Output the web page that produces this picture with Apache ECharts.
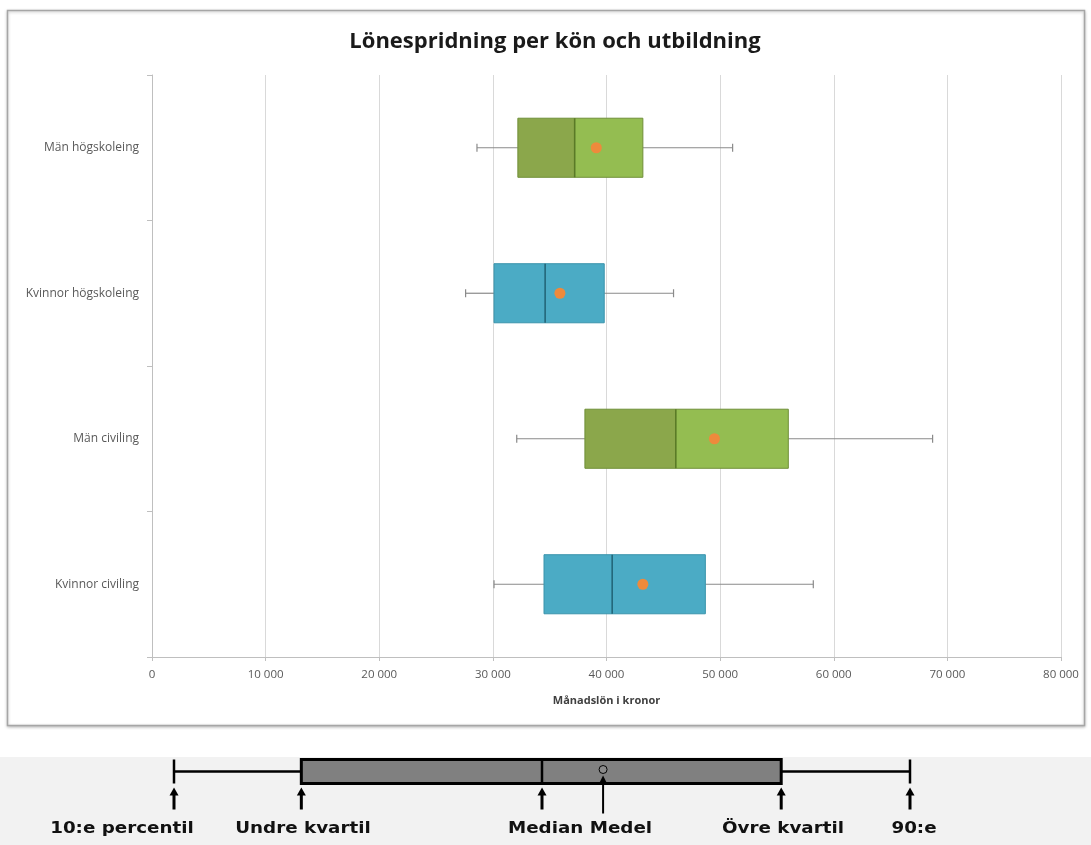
<!DOCTYPE html>
<html>
<head>
<meta charset="utf-8">
<title>Lönespridning per kön och utbildning</title>
<script src="https://cdn.jsdelivr.net/npm/echarts@6/dist/echarts.min.js"></script>
<style>
  html, body { margin: 0; padding: 0; background: #ffffff; }
  #chart { width: 1091px; height: 845px; }
</style>
</head>
<body>
<div id="chart"></div>
<script>
// Monthly salary spread (kronor) per gender and degree type
const categories = ['Män högskoleing', 'Kvinnor högskoleing', 'Män civiling', 'Kvinnor civiling'];
const gender     = ['man', 'kvinna', 'man', 'kvinna'];
const p10        = [28600, 27600, 32100, 30100];
const lowerQ     = [32200, 30100, 38100, 34500];
const median     = [37200, 34600, 46100, 40500];
const upperQ     = [43200, 39800, 56000, 48700];
const p90        = [51100, 45900, 68700, 58200];
const mean       = [39100, 35900, 49500, 43200];

const xTicks = { min: 0, max: 80000, step: 10000 };

// Example box used by the explanation strip (relative scale 0–100)
const keyValues = [0, 17.3, 50.0, 58.3, 82.5, 100];
const keyLabels = ['10:e percentil', 'Undre kvartil', 'Median Medel', 'Övre kvartil', '90:e'];

const palettes = {
  man:    { left: '#8BA74B', right: '#94BD51', border: '#6F8F38', median: '#5A7A27' },
  kvinna: { left: '#4BABC5', right: '#4BABC5', border: '#3A94AC', median: '#22667A' }
};
const WHISKER = '#8a8a8a';
const MEAN_COLOR = '#EE8A3C';

const boxData = categories.map((c, i) => [i, p10[i], lowerQ[i], median[i], upperQ[i], p90[i], mean[i], gender[i] === 'man' ? 0 : 1]);

function renderBox(params, api) {
  const cat = api.value(0);
  const y = api.coord([0, cat])[1];
  const band = api.size([0, 1])[1];
  const h = band * 0.203;          // half of the box height
  const X = v => api.coord([v, cat])[0];
  const a = X(api.value(1)), q1 = X(api.value(2)), md = X(api.value(3));
  const q3 = X(api.value(4)), b = X(api.value(5)), mn = X(api.value(6));
  const pal = api.value(7) === 0 ? palettes.man : palettes.kvinna;
  const cap = 4;
  const ws = { stroke: WHISKER, lineWidth: 1.2 };
  return {
    type: 'group',
    children: [
      { type: 'line', shape: { x1: a, y1: y, x2: q1, y2: y }, style: ws },
      { type: 'line', shape: { x1: q3, y1: y, x2: b, y2: y }, style: ws },
      { type: 'line', shape: { x1: a, y1: y - cap, x2: a, y2: y + cap }, style: ws },
      { type: 'line', shape: { x1: b, y1: y - cap, x2: b, y2: y + cap }, style: ws },
      { type: 'rect', shape: { x: q1, y: y - h, width: md - q1, height: 2 * h }, style: { fill: pal.left } },
      { type: 'rect', shape: { x: md, y: y - h, width: q3 - md, height: 2 * h }, style: { fill: pal.right } },
      { type: 'rect', shape: { x: q1, y: y - h, width: q3 - q1, height: 2 * h }, style: { fill: 'none', stroke: pal.border, lineWidth: 1 } },
      { type: 'line', shape: { x1: md, y1: y - h, x2: md, y2: y + h }, style: { stroke: pal.median, lineWidth: 1.6 } },
      { type: 'circle', shape: { cx: mn, cy: y, r: 5.5 }, style: { fill: MEAN_COLOR } }
    ]
  };
}

function arrow(x, yTip, yEnd, w, lw) {
  return [
    { type: 'line', shape: { x1: x, y1: yTip + 6, x2: x, y2: yEnd }, style: { stroke: '#000', lineWidth: lw } },
    { type: 'polygon', shape: { points: [[x, yTip], [x - w / 2, yTip + 8], [x + w / 2, yTip + 8]] }, style: { fill: '#000' } }
  ];
}

function renderKey(params, api) {
  const X = v => api.coord([v, 0])[0];
  const y = api.coord([0, 0])[1];
  const h = 12;
  const a = X(api.value(0)), q1 = X(api.value(1)), md = X(api.value(2));
  const mn = X(api.value(3)), q3 = X(api.value(4)), b = X(api.value(5));
  const bottom = y + h;
  const ls = { stroke: '#000', lineWidth: 2.5 };
  let children = [
    { type: 'line', shape: { x1: a, y1: y, x2: q1, y2: y }, style: ls },
    { type: 'line', shape: { x1: q3, y1: y, x2: b, y2: y }, style: ls },
    { type: 'line', shape: { x1: a, y1: y - h, x2: a, y2: y + h }, style: ls },
    { type: 'line', shape: { x1: b, y1: y - h, x2: b, y2: y + h }, style: ls },
    { type: 'rect', shape: { x: q1, y: y - h, width: q3 - q1, height: 2 * h }, style: { fill: '#808080', stroke: '#000', lineWidth: 3 } },
    { type: 'line', shape: { x1: md, y1: y - h, x2: md, y2: y + h }, style: { stroke: '#000', lineWidth: 2.5 } },
    { type: 'circle', shape: { cx: mn, cy: y - 2, r: 4 }, style: { fill: '#8a8a8a', stroke: '#000', lineWidth: 1 } }
  ];
  [a, q1, md, q3, b].forEach(x => { children = children.concat(arrow(x, bottom + 4, bottom + 26, 9, 3)); });
  children = children.concat(arrow(mn, y + 4, bottom + 30, 8, 2));
  return { type: 'group', children };
}

const chart = echarts.init(document.getElementById('chart'), null, { renderer: 'canvas' });
const labelFont = '"Open Sans", "Liberation Sans", sans-serif';
const keyFont = '"DejaVu Sans", Verdana, sans-serif';

// Text labels under the explanation strip, slightly widened
const keyTextX = [122, 303, 580, 783, 914];
const keyGraphics = keyLabels.map((t, i) => ({
  type: 'group',
  x: keyTextX[i], y: 829,
  scaleX: 1.22,
  z: 10,
  children: [{
    type: 'text', x: 0, y: 0,
    style: { text: t, fill: '#111', font: 'bold 15px ' + keyFont, textAlign: 'center', textVerticalAlign: 'middle' }
  }]
}));

chart.setOption({
  animation: false,
  backgroundColor: '#ffffff',
  graphic: [
    { type: 'rect', shape: { x: 0, y: 757, width: 1091, height: 88 }, style: { fill: '#f2f2f2' }, z: -10 },
    { type: 'rect', shape: { x: 7.5, y: 10.5, width: 1077, height: 715 }, style: { fill: '#ffffff', stroke: '#a6a6a6', lineWidth: 1.5, shadowBlur: 3, shadowColor: 'rgba(0,0,0,0.25)', shadowOffsetY: 1 }, z: -10 },
    { type: 'text', x: 555, y: 42, style: { text: 'Lönespridning per kön och utbildning', fill: '#1a1a1a', font: 'bold 22px ' + labelFont, textAlign: 'center', textVerticalAlign: 'middle' } }
  ].concat(keyGraphics),
  grid: [
    { left: 152, right: 30, top: 75, bottom: 188 },
    { left: 174, right: 181, top: 759, height: 25 }
  ],
  xAxis: [
    {
      type: 'value', min: xTicks.min, max: xTicks.max, interval: xTicks.step,
      name: 'Månadslön i kronor', nameLocation: 'middle', nameGap: 38,
      nameTextStyle: { fontFamily: labelFont, fontWeight: 'bold', fontSize: 11, color: '#404040' },
      axisLine: { show: true, lineStyle: { color: '#bfbfbf' } },
      axisTick: { show: true, length: 4, lineStyle: { color: '#bfbfbf' } },
      splitLine: { show: true, lineStyle: { color: '#d9d9d9', width: 1 } },
      axisLabel: {
        margin: 12, fontFamily: labelFont, fontSize: 11.5, color: '#595959',
        formatter: v => String(v).replace(/\B(?=(\d{3})+(?!\d))/g, ' ')
      }
    },
    { type: 'value', gridIndex: 1, min: 0, max: 100, show: false }
  ],
  yAxis: [
    {
      type: 'category', data: categories, inverse: true,
      axisLine: { show: true, lineStyle: { color: '#bfbfbf' } },
      axisTick: { show: true, length: 5, lineStyle: { color: '#bfbfbf' } },
      axisLabel: { margin: 13, fontFamily: labelFont, fontSize: 12, color: '#595959' },
      splitLine: { show: false }
    },
    { type: 'category', gridIndex: 1, data: ['key'], show: false }
  ],
  series: [
    {
      type: 'custom', xAxisIndex: 0, yAxisIndex: 0,
      renderItem: renderBox,
      encode: { x: [1, 2, 3, 4, 5, 6], y: 0 },
      data: boxData, z: 5
    },
    {
      type: 'custom', xAxisIndex: 1, yAxisIndex: 1,
      renderItem: renderKey,
      encode: { x: [0, 1, 2, 3, 4, 5] },
      data: [keyValues], z: 5
    }
  ]
});
</script>
</body>
</html>
